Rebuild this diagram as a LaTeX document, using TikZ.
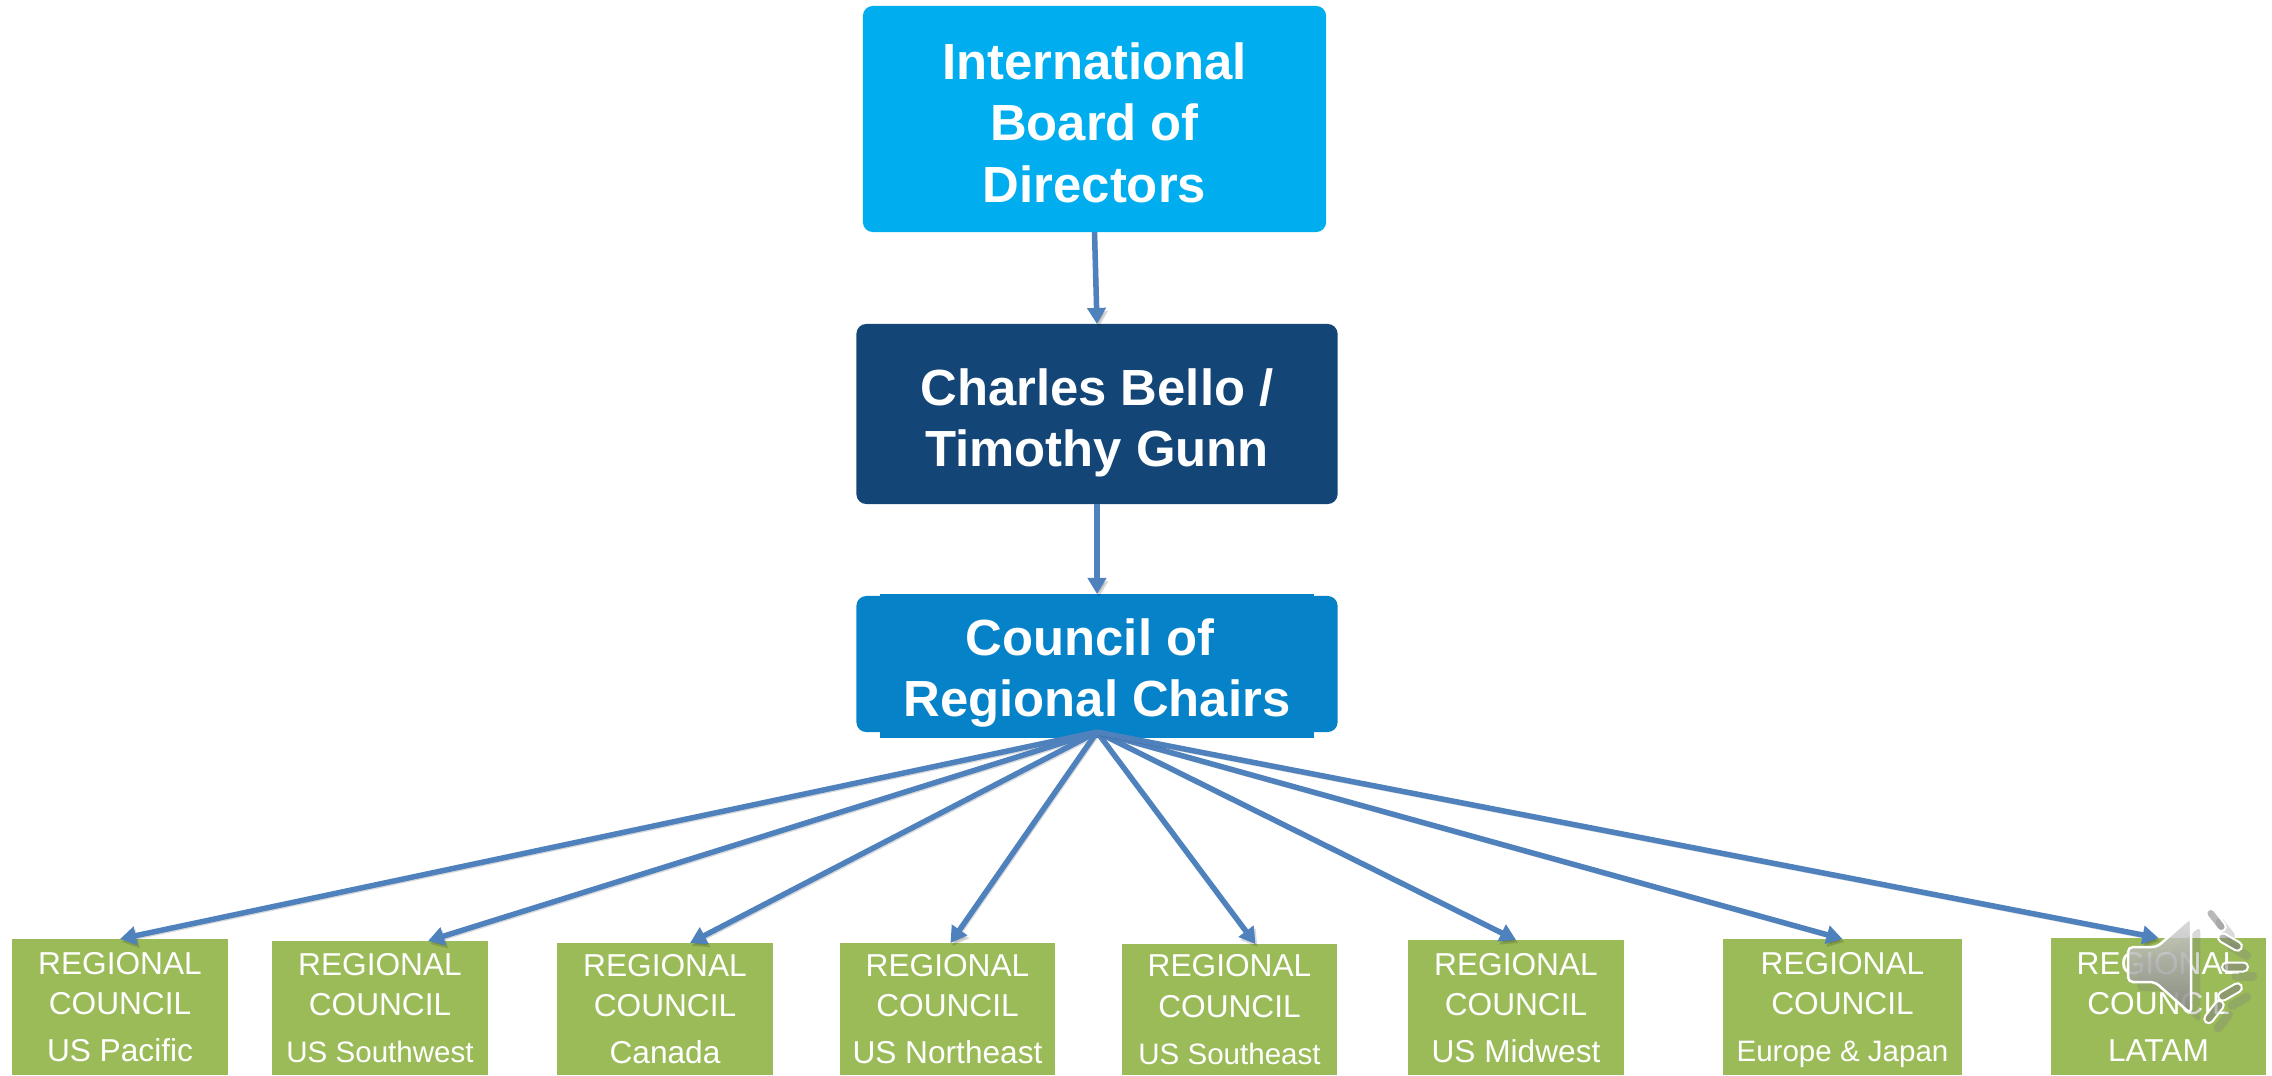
\documentclass[tikz,border=0pt]{standalone}
\usepackage{fontspec}
\setmainfont{Liberation Sans}
\usepackage{xcolor}
\usepackage{tikz}
\usetikzlibrary{arrows.meta}
\usetikzlibrary{shadows}

\definecolor{boardblue}{HTML}{00AEEF}
\definecolor{chargenavy}{HTML}{134676}
\definecolor{chairblue}{HTML}{0682C8}
\definecolor{councilgreen}{HTML}{9BBB59}
\definecolor{linkblue}{HTML}{4F81BD}

\newcommand{\narrowtext}[1]{{\fontsize{8.4}{11.4}\selectfont #1}}
\newcommand{\topgap}{\rule{0pt}{12.4pt}}

\tikzset{
    topbox/.style={rounded corners=.1cm, inner sep=0pt, outer sep=0pt, text=white, align=center, text depth=0pt,
        font=\fontsize{14.45}{17.4}\selectfont\bfseries},
    regionbox/.style={fill=councilgreen, inner sep=0pt, outer sep=0pt, text=white, align=center,
        anchor=north, minimum width=2.15cm, text depth=0pt, font=\fontsize{9}{11.4}\selectfont},
    link/.style={draw=linkblue, line width=.055cm, -{Triangle[length=.16cm,width=.18cm]},
        preaction={draw=black, opacity=.15, transform canvas={shift={(.02cm,-.03cm)}}}},
    speakerray/.style={draw=white, line width=.02cm, fill=gray, fill opacity=.55, rounded corners=.045cm,
        minimum width=.26cm, minimum height=.09cm, inner sep=0pt, drop shadow={opacity=.3}},
}

\begin{document}
\begin{tikzpicture}[x=.01cm, y=-.01cm]
    \useasboundingbox (0,0) rectangle (2272,1075);

    % Draw top boxes
    \node[topbox, fill=boardblue, minimum width=4.63cm, minimum height=2.26cm] (board) at (1094.5,119) {\topgap International\\Board of\\Directors};
    \node[topbox, fill=chargenavy, minimum width=4.81cm, minimum height=1.8cm] (chair) at (1097,414) {\topgap Charles Bello /\\Timothy Gunn};
    \node[fill=chairblue, inner sep=0pt, outer sep=0pt, minimum width=4.33cm, minimum height=1.44cm] (chairsback) at (1097,666) {};
    \node[topbox, fill=chairblue, minimum width=4.81cm, minimum height=1.36cm] (chairs) at (1097,664) {\topgap Council of\hspace*{.14cm}\\Regional Chairs};

    % Draw regional councils
    \node[regionbox, minimum height=1.36cm] (pacific) at (120,939) {REGIONAL\\COUNCIL\\[2pt]US Pacific};
    \node[regionbox, minimum height=1.34cm] (southwest) at (380,941) {REGIONAL\\COUNCIL\\[2pt]\narrowtext{US Southwest}};
    \node[regionbox, minimum height=1.32cm] (canada) at (665,943) {REGIONAL\\COUNCIL\\[2pt]Canada};
    \node[regionbox, minimum height=1.32cm] (northeast) at (947.5,943) {REGIONAL\\COUNCIL\\[2pt]US Northeast};
    \node[regionbox, minimum height=1.31cm] (southeast) at (1229.5,944) {REGIONAL\\COUNCIL\\[2pt]\narrowtext{US Southeast}};
    \node[regionbox, minimum height=1.35cm] (midwest) at (1516,940) {REGIONAL\\COUNCIL\\[2pt]US Midwest};
    \node[regionbox, minimum height=1.36cm, minimum width=2.39cm] (europe) at (1842.5,939) {REGIONAL\\COUNCIL\\[2pt]\narrowtext{Europe \& Japan}};
    \node[regionbox, minimum height=1.37cm] (latam) at (2158.5,938) {REGIONAL\\COUNCIL\\[2pt]LATAM};

    % Draw links down the chain
    \draw[link] (board.south) -- (chair.north);
    \draw[link] (chair.south) -- (chairsback.north);

    % Draw links to the councils
    \draw[link] (chairs.south) -- (pacific.north);
    \draw[link] (chairs.south) -- ([xshift=.48cm]southwest.north);
    \draw[link] (chairs.south) -- ([xshift=.25cm]canada.north);
    \draw[link] (chairs.south) -- ([xshift=.03cm]northeast.north);
    \draw[link] (chairs.south) -- ([xshift=.26cm]southeast.north);
    \draw[link] (chairs.south) -- (midwest.north);
    \draw[link] (chairs.south) -- (europe.north);
    \draw[link] (chairs.south) -- (latam.north);

    % Draw speaker icon
    \path[draw=white, line width=.025cm, rounded corners=.05cm, top color=gray!35, bottom color=gray!95, fill opacity=.8, drop shadow={opacity=.3}]
        (2128,947) -- (2157,947) -- (2191,917) -- (2191,1014) -- (2155,982) -- (2128,982) -- cycle;
    \node[speakerray, rotate=-52] (rayone) at (2216,920) {};
    \node[speakerray, rotate=-30] (raytwo) at (2230,942) {};
    \node[speakerray] (raythree) at (2235,967) {};
    \node[speakerray, rotate=30] (rayfour) at (2230,992) {};
    \node[speakerray, rotate=52] (rayfive) at (2214,1012) {};
\end{tikzpicture}
\end{document}
